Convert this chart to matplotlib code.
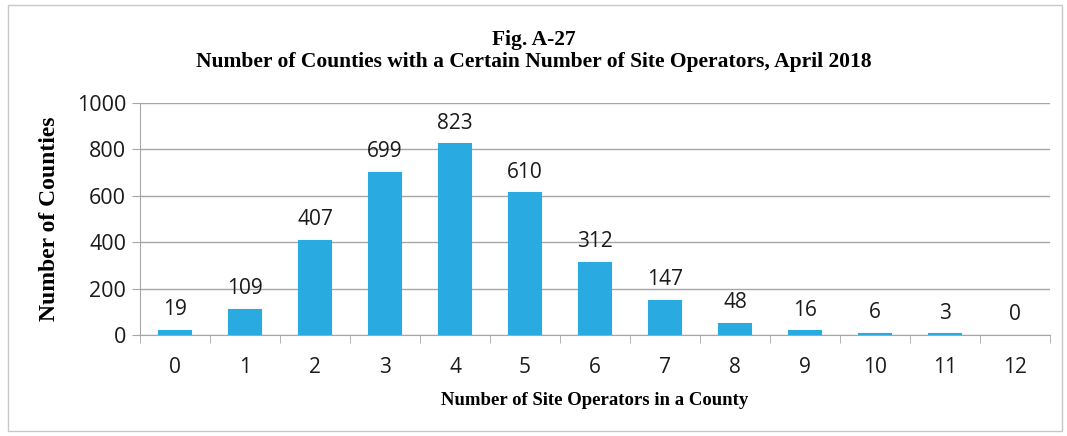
import matplotlib.pyplot as plt
from matplotlib.patches import Rectangle

operators = list(range(13))
counties = [19, 109, 407, 699, 823, 610, 312, 147, 48, 16, 6, 3, 0]
yticks = [0, 200, 400, 600, 800, 1000]

bar_color = '#29abe2'
grid_color = '#a6a6a6'
sans = ['Open Sans', 'DejaVu Sans']
serif = 'Liberation Serif'

fig = plt.figure(figsize=(10.67, 4.36), dpi=100)
fig.patches.append(Rectangle((8 / 1067, 5 / 436), 1054 / 1067, 426 / 436,
                             transform=fig.transFigure, fill=False,
                             edgecolor='#c8c8c8', linewidth=1))

ax = fig.add_axes([140 / 1067, 1 - 335 / 436, 910 / 1067, 232 / 436])
ax.bar(operators, counties, width=0.47, color=bar_color, edgecolor=bar_color,
       linewidth=[1.5 if v else 0 for v in counties], zorder=3)
for x, v in zip(operators, counties):
    ax.text(x, v + 45, str(v), ha='center', va='bottom',
            fontsize=15, family=sans, color='#1a1a1a')

ax.set_xlim(-0.5, 12.5)
ax.set_ylim(0, 1000)
ax.set_yticks(yticks)
ax.set_yticklabels([str(t) for t in yticks], family=sans, fontsize=15.5)
ax.set_xticks(operators)
ax.set_xticklabels([str(o) for o in operators], family=sans, fontsize=15)
ax.set_xticks([o + 0.5 for o in range(-1, 13)], minor=True)
ax.tick_params(axis='x', which='major', length=0, pad=16)
ax.tick_params(axis='x', which='minor', length=6, color=grid_color)
ax.tick_params(axis='y', length=6, color=grid_color, pad=4, labelcolor='#1a1a1a')
ax.tick_params(axis='x', labelcolor='#1a1a1a')
ax.grid(axis='y', color=grid_color, linewidth=1, zorder=0)

for s in ['top', 'right']:
    ax.spines[s].set_visible(False)
for s in ['left', 'bottom']:
    ax.spines[s].set_color(grid_color)

ax.set_ylabel('Number of Counties', family=serif, fontweight='bold',
              fontsize=17, labelpad=12)
ax.set_xlabel('Number of Site Operators in a County', family=serif,
              fontweight='bold', fontsize=13.5, labelpad=10)

fig.text(0.5, 1 - 40 / 436, 'Fig. A-27', ha='center', va='center',
         family=serif, fontweight='bold', fontsize=15.5)
fig.text(0.5, 1 - 62 / 436,
         'Number of Counties with a Certain Number of Site Operators, April 2018',
         ha='center', va='center', family=serif, fontweight='bold', fontsize=15.5)

fig.savefig('out.png', dpi=100)
